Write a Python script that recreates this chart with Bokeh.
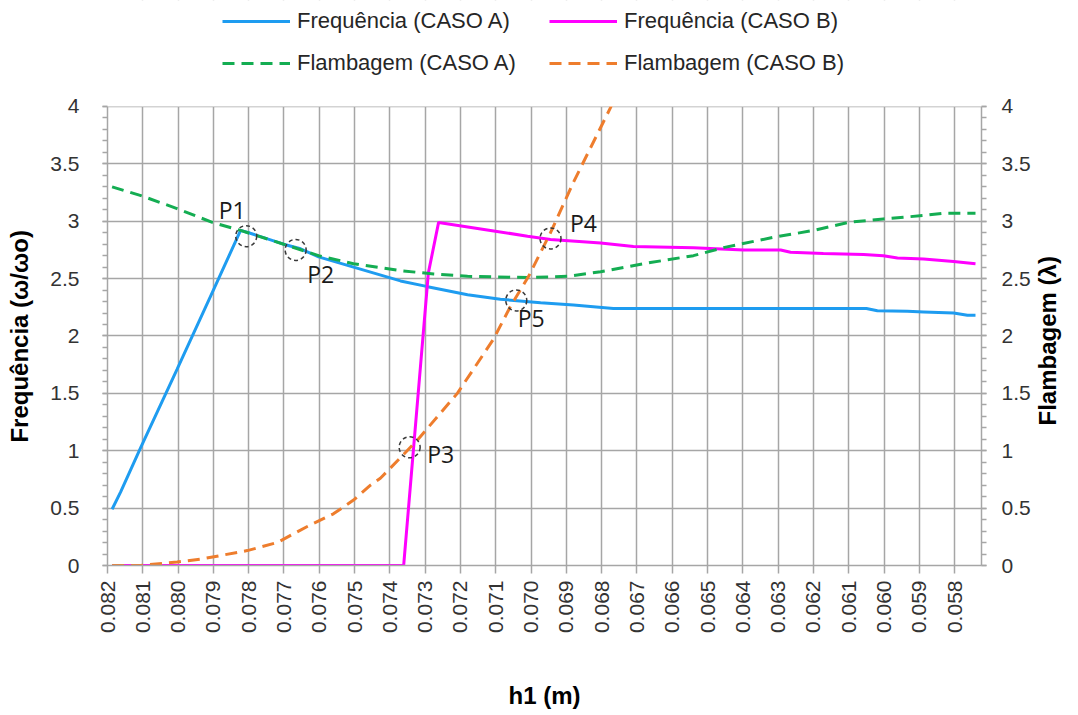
from math import pi
from bokeh.plotting import figure
from bokeh.models import (Range1d, LinearAxis, FixedTicker, SingleIntervalTicker,
                          PrintfTickFormatter, CustomJSTickFormatter, Legend, LegendItem,
                          ColumnDataSource, BoxAnnotation)
from bokeh.core.properties import value
from bokeh.embed import file_html
from bokeh.resources import INLINE

# ---------------- data ----------------
x_ticks = [0.082, 0.081, 0.080, 0.079, 0.078, 0.077, 0.076, 0.075, 0.074, 0.073,
           0.072, 0.071, 0.070, 0.069, 0.068, 0.067, 0.066, 0.065, 0.064, 0.063,
           0.062, 0.061, 0.060, 0.059, 0.058]

h_freq_a = [0.08187, 0.08163, 0.08107, 0.08003, 0.07903, 0.07823, 0.07800, 0.07701,
            0.07653, 0.07602, 0.07503, 0.07370, 0.07293, 0.07180, 0.07087, 0.06973,
            0.06880, 0.06767, 0.06520, 0.06050, 0.06019, 0.05934, 0.05888, 0.05803,
            0.05764, 0.05741]
freq_a = [0.49, 0.64, 1.02, 1.71, 2.38, 2.92, 2.90, 2.80,
          2.76, 2.69, 2.60, 2.48, 2.43, 2.36, 2.32, 2.29,
          2.27, 2.24, 2.24, 2.24, 2.22, 2.215, 2.21, 2.20,
          2.18, 2.18]

h_freq_b = [0.08187, 0.07361, 0.07291, 0.07262, 0.07115, 0.07010, 0.06945, 0.06803,
            0.06710, 0.06540, 0.06398, 0.06293, 0.06265, 0.06172, 0.06058, 0.06002,
            0.05962, 0.05888, 0.05803, 0.05741]
freq_b = [0.0, 0.0, 2.55, 2.99, 2.92, 2.87, 2.84, 2.81,
          2.78, 2.77, 2.75, 2.75, 2.73, 2.72, 2.71, 2.70,
          2.68, 2.67, 2.65, 2.63]

h_flamb_a = [0.08187, 0.08102, 0.08003, 0.07903, 0.07823, 0.07701, 0.07602, 0.07503,
             0.07370, 0.07276, 0.07180, 0.07010, 0.06897, 0.06803, 0.06662, 0.06540,
             0.06455, 0.06313, 0.06200, 0.06101, 0.06002, 0.05888, 0.05832, 0.05741]
flamb_a = [3.30, 3.22, 3.11, 2.99, 2.92, 2.80, 2.70, 2.63,
           2.57, 2.54, 2.52, 2.51, 2.52, 2.56, 2.64, 2.70,
           2.77, 2.86, 2.92, 2.99, 3.02, 3.05, 3.07, 3.07]

h_flamb_b = [0.08187, 0.08107, 0.08003, 0.07927, 0.07804, 0.07719, 0.07634, 0.07560,
             0.07503, 0.07455, 0.07427, 0.07370, 0.07323, 0.07209, 0.07107, 0.07058,
             0.07007, 0.06945, 0.06880, 0.06775, 0.06700]
flamb_b = [0.0, 0.0, 0.03, 0.06, 0.13, 0.20, 0.34, 0.45,
           0.57, 0.70, 0.76, 0.94, 1.09, 1.50, 1.97, 2.26,
           2.52, 2.90, 3.34, 3.99, 4.60]

p_names = ["P1", "P2", "P3", "P4", "P5"]
p_h = [0.07807, 0.07667, 0.07344, 0.06945, 0.07042]
p_val = [2.87, 2.75, 1.03, 2.85, 2.31]

series_labels = ["Frequência (CASO A)", "Frequência (CASO B)",
                 "Flambagem (CASO A)", "Flambagem (CASO B)"]
y_title_left = "Frequência (ω/ωo)"
y_title_right = "Flambagem (λ)"

# ---------------- styles ----------------
FONT = "Liberation Sans"
GRID = "#a6a6a6"
C_BLUE, C_MAG, C_GREEN, C_ORANGE = "#1e9cf0", "#ff00ff", "#14ad52", "#ee7d2d"
label_dx = [-14, 25, 31, 33, 15]
label_dy = [-26, 24, 7, -15, 18]
PAD = "\u00a0" * 16   # keeps the left title centred on the 0..4 axis span

Y_AXIS_MAX = 4.0
TITLE_ANCHOR = 1.22   # start of the right-hand rotated title (text runs upward)
Y_VIEW_TOP = 4.9237   # frame extends above the axis so the legend has room

p = figure(width=1078, height=712, output_backend="svg", toolbar_location=None,
           x_range=Range1d(0.082, 0.05724), y_range=Range1d(0, Y_VIEW_TOP),
           min_border_left=107, min_border_right=97, min_border_top=0,
           min_border_bottom=147)
p.outline_line_color = None
p.background_fill_color = "white"
p.extra_y_ranges = {"lam": Range1d(0, Y_VIEW_TOP)}

# x axis
xa = p.xaxis[0]
xa.ticker = FixedTicker(ticks=x_ticks, minor_ticks=[])
xa.formatter = PrintfTickFormatter(format="%.3f")
xa.major_label_orientation = pi / 2
xa.axis_label = "h1 (m)"
xa.axis_label_text_font = FONT
xa.axis_label_text_font_style = "bold"
xa.axis_label_text_font_size = "24px"
xa.axis_label_text_color = "#000000"
xa.axis_label_standoff = 46
xa.major_label_standoff = 7
xa.major_tick_out = 8
xa.major_tick_in = 0
xa.minor_tick_out = 0
xa.axis_line_color = GRID
xa.major_tick_line_color = GRID
xa.axis_line_width = 1.5
xa.major_tick_line_width = 1.5
xa.major_label_text_font = FONT
xa.major_label_text_font_size = "21px"
xa.major_label_text_color = "#333333"

yfmt = CustomJSTickFormatter(code="return String(Math.round(tick * 10) / 10);")

ya = p.yaxis[0]
ya.ticker = SingleIntervalTicker(interval=0.5, num_minor_ticks=5)
ya.formatter = yfmt
ya.axis_label = y_title_left + PAD
ya.axis_label_standoff = 14
ya.major_label_standoff = 23

ra = LinearAxis(y_range_name="lam",
                ticker=SingleIntervalTicker(interval=0.5, num_minor_ticks=5),
                formatter=yfmt)
ra.major_label_standoff = 15
p.add_layout(ra, "right")

for ax in (ya, ra):
    ax.bounds = (0, Y_AXIS_MAX)
    ax.axis_line_color = GRID
    ax.axis_line_width = 1.5
    ax.major_tick_line_color = GRID
    ax.minor_tick_line_color = GRID
    ax.major_tick_line_width = 1.5
    ax.minor_tick_line_width = 1.5
    ax.major_tick_out = 5
    ax.major_tick_in = 0
    ax.minor_tick_out = 5
    ax.minor_tick_in = 0
    ax.major_label_text_font = FONT
    ax.major_label_text_font_size = "21px"
    ax.major_label_text_color = "#333333"
    ax.axis_label_text_font = FONT
    ax.axis_label_text_font_style = "bold"
    ax.axis_label_text_font_size = "24px"
    ax.axis_label_text_color = "#000000"

# right-hand title: a single rotated label (reads bottom to top)
ta = LinearAxis(y_range_name="lam", ticker=FixedTicker(ticks=[TITLE_ANCHOR], minor_ticks=[]),
                formatter=CustomJSTickFormatter(args=dict(t=y_title_right), code="return t;"),
                major_label_orientation=pi / 2, axis_line_color=None,
                major_tick_line_color=None, minor_tick_line_color=None,
                major_tick_out=0, major_tick_in=0, minor_tick_out=0, minor_tick_in=0,
                major_label_standoff=14, major_label_text_font=FONT,
                major_label_text_font_style="bold", major_label_text_font_size="24px",
                major_label_text_color="#000000")
p.add_layout(ta, "right")

p.xgrid.grid_line_color = GRID
p.xgrid.grid_line_width = 1.5
p.ygrid.grid_line_color = GRID
p.ygrid.grid_line_width = 1.5

# ---------------- series ----------------
r_fa = p.line(h_freq_a, freq_a, line_color=C_BLUE, line_width=3)
r_fb = p.line(h_freq_b, freq_b, line_color=C_MAG, line_width=3)
r_la = p.line(h_flamb_a, flamb_a, line_color=C_GREEN, line_width=3,
              line_dash="12 7", y_range_name="lam")
r_lb = p.line(h_flamb_b, flamb_b, line_color=C_ORANGE, line_width=3,
              line_dash="12 7", y_range_name="lam")

src = ColumnDataSource(dict(h=p_h, v=p_val, name=p_names, dx=label_dx, dy=label_dy))
p.scatter("h", "v", source=src, marker="circle", size=21, fill_alpha=0,
          line_color="#3a3a3a", line_width=1.5, line_dash="4 3")
p.text("h", "v", text="name", source=src, x_offset="dx", y_offset="dy",
       text_align="center", text_baseline="middle", text_font=value("Open Sans"),
       text_font_size="23px", text_color="#1a1a1a")

# white band above the axis maximum (plot area ends at 4 in the reference)
p.add_layout(BoxAnnotation(bottom=Y_AXIS_MAX, fill_color="white", fill_alpha=1.0,
                           line_color=None))

# ---------------- legend (two rows, two columns) ----------------
legend = Legend(items=[LegendItem(label=series_labels[0], renderers=[r_fa]),
                       LegendItem(label=series_labels[1], renderers=[r_fb]),
                       LegendItem(label=series_labels[2], renderers=[r_la]),
                       LegendItem(label=series_labels[3], renderers=[r_lb])],
                location=(115, 487), orientation="horizontal", ncols=2,
                padding=0, margin=0, spacing=12,
                glyph_width=68, glyph_height=30, label_height=30, label_width=240,
                label_standoff=7, border_line_alpha=0, background_fill_alpha=0,
                label_text_font=FONT, label_text_font_size="22px",
                label_text_color="#262626")
p.add_layout(legend, "center")

open("out.html", "w").write(file_html(p, INLINE))
